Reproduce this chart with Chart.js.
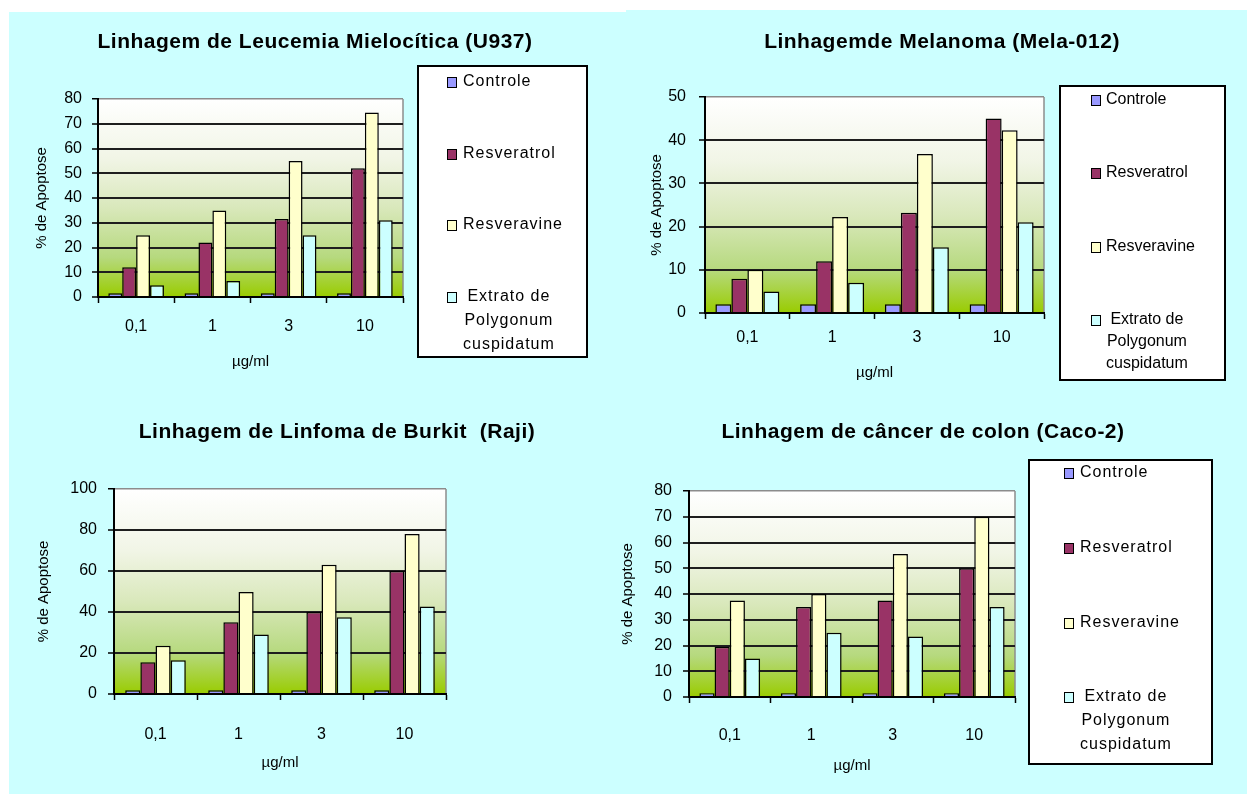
<!DOCTYPE html>
<html>
<head>
<meta charset="utf-8">
<script src="https://cdn.jsdelivr.net/npm/chart.js@4.4.0/dist/chart.umd.min.js"></script>
<style>
  html, body { margin: 0; padding: 0; background: #fff; }
  body { width: 1247px; height: 794px; position: relative; overflow: hidden; }
  .bg { position: absolute; background: #ccffff; }
  canvas { position: absolute; }
</style>
</head>
<body>
<div class="bg" style="left:9px;top:12px;width:617px;height:782px"></div>
<div class="bg" style="left:626px;top:10px;width:621px;height:784px"></div>
<canvas id="c1" width="617" height="378" style="left:9px;top:12px"></canvas>
<canvas id="c2" width="637" height="380" style="left:610px;top:10px"></canvas>
<canvas id="c3" width="600" height="404" style="left:9px;top:390px"></canvas>
<canvas id="c4" width="647" height="404" style="left:600px;top:390px"></canvas>
<script>
// dados
const doses = ['0,1', '1', '3', '10'];
const seriesNames = ['Controle', 'Resveratrol', 'Resveravine', 'Extrato de Polygonum cuspidatum'];
const legendLines = [['Controle'], ['Resveratrol'], ['Resveravine'], ['Extrato de', 'Polygonum', 'cuspidatum']];
const seriesColors = ['#9999ff', '#993366', '#ffffcc', '#ccffff'];

// Leucemia Mielocitica (U937)
const u937Controle = [1.5, 1.5, 1.5, 1.5];
const u937Resveratrol = [12, 22, 31.5, 52];
const u937Resveravine = [25, 35, 55, 74.5];
const u937Extrato = [4.7, 6.5, 25, 31];

// Melanoma (Mela-012)
const melaControle = [2, 2, 2, 2];
const melaResveratrol = [7.9, 12, 23.2, 45];
const melaResveravine = [10, 22.2, 36.8, 42.3];
const melaExtrato = [5, 7, 15.2, 21];

// Linfoma de Burkit (Raji)
const rajiControle = [1.8, 1.8, 1.8, 1.8];
const rajiResveratrol = [15.5, 35, 40, 60];
const rajiResveravine = [23.5, 49.7, 63, 78];
const rajiExtrato = [16.5, 29, 37.5, 42.7];

// cancer de colon (Caco-2)
const cacoControle = [1.5, 1.5, 1.5, 1.5];
const cacoResveratrol = [19.5, 35, 37.5, 50];
const cacoResveravine = [37.5, 40, 55.5, 70];
const cacoExtrato = [15, 25, 23.5, 35];

Chart.defaults.font.family = '"Liberation Sans", Arial, sans-serif';
Chart.defaults.color = '#000';

// fundo degrade, titulo e legenda
const decor = {
  id: 'decor',
  beforeDraw(chart, args, o) {
    const { ctx, chartArea: a } = chart;
    const g = ctx.createLinearGradient(0, a.top, 0, a.bottom);
    g.addColorStop(0, '#ffffff');
    g.addColorStop(0.3, '#f1f5e6');
    g.addColorStop(0.55, '#d9e8bb');
    g.addColorStop(0.8, '#b6d97e');
    g.addColorStop(1, '#99cc00');
    ctx.save();
    ctx.fillStyle = g;
    ctx.fillRect(a.left, a.top, a.right - a.left, a.bottom - a.top);
    ctx.strokeStyle = '#8c8c8c';
    ctx.lineWidth = 1.5;
    ctx.beginPath();
    ctx.moveTo(a.right, a.top);
    ctx.lineTo(a.right, a.bottom);
    ctx.stroke();
    ctx.restore();
  },
  afterDraw(chart, args, o) {
    const ctx = chart.ctx;
    const [ox, oy] = o.origin;
    ctx.save();
    ctx.fillStyle = '#000';
    ctx.font = 'bold 21px "Liberation Sans", Arial, sans-serif';
    ctx.letterSpacing = '0.5px';
    ctx.textAlign = 'center';
    ctx.textBaseline = 'middle';
    ctx.fillText(o.title, o.titleX - ox, o.titleY - oy);

    const L = o.legend;
    if (L) {
      ctx.fillStyle = '#fff';
      ctx.fillRect(L.box[0] - ox, L.box[1] - oy, L.box[2] - L.box[0], L.box[3] - L.box[1]);
      ctx.strokeStyle = '#000';
      ctx.lineWidth = 2;
      ctx.strokeRect(L.box[0] - ox, L.box[1] - oy, L.box[2] - L.box[0], L.box[3] - L.box[1]);
      ctx.font = L.font;
      ctx.letterSpacing = L.spacing;
      chart.data.datasets.forEach((ds, i) => {
        const y = L.rows[i] - oy;
        ctx.fillStyle = ds.backgroundColor;
        ctx.fillRect(L.markX - ox, y - 5, 9, 10);
        ctx.lineWidth = 1;
        ctx.strokeRect(L.markX - ox + 0.5, y - 5 + 0.5, 9, 10);
        ctx.fillStyle = '#000';
        const lines = legendLines[i];
        if (lines.length === 1) {
          ctx.textAlign = 'left';
          ctx.fillText(lines[0], L.textX - ox, y);
        } else {
          const w = Math.max(...lines.map(t => ctx.measureText(t).width));
          ctx.textAlign = 'center';
          lines.forEach((t, k) => ctx.fillText(t, L.textX - ox + w / 2, y + k * L.lineH));
        }
      });
    }
    ctx.restore();
  }
};

function build(id, c) {
  const canvas = document.getElementById(id);
  const ox = parseFloat(canvas.style.left), oy = parseFloat(canvas.style.top);
  const [L, T, R, B] = c.area;
  const wy = L - (c.yTitleX - 9);
  const hx = c.xTitleY + 9 - B;
  const pad = {
    left: L - wy - ox,
    top: T - oy,
    right: canvas.width - (R - ox),
    bottom: canvas.height - (B - oy) - hx
  };
  const datasets = c.series.map((d, i) => ({
    label: seriesNames[i],
    data: d,
    backgroundColor: seriesColors[i],
    borderColor: '#000',
    borderWidth: 1.5,
    barPercentage: 1,
    categoryPercentage: c.catPct
  }));
  c.decor.origin = [ox, oy];
  return new Chart(canvas, {
    type: 'bar',
    data: { labels: doses, datasets },
    options: {
      responsive: false,
      animation: false,
      events: [],
      devicePixelRatio: 1,
      layout: { padding: pad },
      plugins: {
        legend: { display: false },
        title: { display: false },
        tooltip: { enabled: false },
        decor: c.decor
      },
      scales: {
        x: {
          offset: true,
          grid: { display: true, drawOnChartArea: false, drawTicks: true, tickLength: 6, tickColor: '#000', tickWidth: 1.5, offset: true },
          border: { display: true, color: '#000', width: 2 },
          ticks: { font: { size: 16 }, padding: c.xTickPad },
          title: { display: true, text: 'µg/ml', font: { size: 15 }, padding: 0 },
          afterFit: s => { s.height = hx; }
        },
        y: {
          min: 0,
          max: c.yMax,
          ticks: { stepSize: c.yStep, font: { size: 16 }, padding: c.yTickPad },
          grid: {
            color: g => (g.tick && g.tick.value === c.yMax ? '#8c8c8c' : '#1e1e1e'),
            lineWidth: g => (g.tick && g.tick.value === c.yMax ? 1.5 : 2),
            tickLength: 6,
            tickColor: '#000',
            tickWidth: 1.5
          },
          border: { display: true, color: '#000', width: 2 },
          title: { display: true, text: '% de Apoptose', font: { size: 15 }, padding: 0 },
          afterFit: s => { s.width = wy; }
        }
      }
    },
    plugins: [decor]
  });
}

build('c1', {
  area: [98, 99, 403, 297],
  yTitleX: 42, xTitleY: 362,
  yMax: 80, yStep: 10, yTickPad: 10, xTickPad: 14, catPct: 0.73,
  series: [u937Controle, u937Resveratrol, u937Resveravine, u937Extrato],
  decor: {
    title: 'Linhagem de Leucemia Mielocítica (U937)', titleX: 315, titleY: 42,
    legend: { box: [418, 66, 587, 357], rows: [82, 154, 225, 297], markX: 447, textX: 463, lineH: 24, font: '16px "Liberation Sans", Arial, sans-serif', spacing: '1px' }
  }
});

build('c2', {
  area: [705, 97, 1044, 313],
  yTitleX: 657, xTitleY: 373,
  yMax: 50, yStep: 10, yTickPad: 13, xTickPad: 9, catPct: 0.755,
  series: [melaControle, melaResveratrol, melaResveravine, melaExtrato],
  decor: {
    title: 'Linhagemde Melanoma (Mela-012)', titleX: 942, titleY: 42,
    legend: { box: [1060, 86, 1225, 380], rows: [100, 173, 247, 320], markX: 1091, textX: 1106, lineH: 22, font: '16px "Liberation Sans", Arial, sans-serif', spacing: '0px' }
  }
});

build('c3', {
  area: [114, 489, 446, 694],
  yTitleX: 44, xTitleY: 763,
  yMax: 100, yStep: 20, yTickPad: 11, xTickPad: 25, catPct: 0.73,
  series: [rajiControle, rajiResveratrol, rajiResveravine, rajiExtrato],
  decor: {
    title: 'Linhagem de Linfoma de Burkit  (Raji)', titleX: 337, titleY: 432,
    legend: null
  }
});

build('c4', {
  area: [689, 491, 1015, 697],
  yTitleX: 628, xTitleY: 766,
  yMax: 80, yStep: 10, yTickPad: 11, xTickPad: 23, catPct: 0.745,
  series: [cacoControle, cacoResveratrol, cacoResveravine, cacoExtrato],
  decor: {
    title: 'Linhagem de câncer de colon (Caco-2)', titleX: 923, titleY: 432,
    legend: { box: [1029, 460, 1212, 764], rows: [473, 548, 623, 697], markX: 1064, textX: 1080, lineH: 24, font: '16px "Liberation Sans", Arial, sans-serif', spacing: '1px' }
  }
});
</script>
</body>
</html>
